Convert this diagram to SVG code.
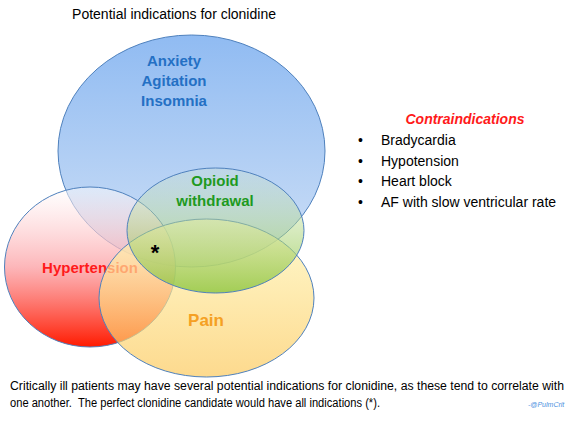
<svg xmlns="http://www.w3.org/2000/svg" width="575" height="424" viewBox="0 0 575 424">
<defs>
<linearGradient id="gBlue" x1="0" y1="0" x2="0" y2="1"><stop offset="0" stop-color="#90bbf2"/><stop offset="1" stop-color="#cfe0f6"/></linearGradient>
<linearGradient id="gRed" x1="0" y1="0" x2="0" y2="1"><stop offset="0" stop-color="#ffffff" stop-opacity="0.5"/><stop offset="0.5" stop-color="#fca4a8" stop-opacity="0.8"/><stop offset="1" stop-color="#ff1a00"/></linearGradient>
<linearGradient id="gGreen" x1="0" y1="0" x2="0" y2="1"><stop offset="0" stop-color="#d8e8c8" stop-opacity="0.25"/><stop offset="1" stop-color="#8cc63e" stop-opacity="0.8"/></linearGradient>
<linearGradient id="gYellow" x1="0" y1="0" x2="0" y2="1"><stop offset="0" stop-color="#fff8b8"/><stop offset="1" stop-color="#fcc858"/></linearGradient>
</defs>
<style>
.e{stroke:#4f81bd;stroke-width:1}
.t{font-family:"Liberation Sans",Arial,sans-serif}
.b{font-weight:bold;text-anchor:middle}
</style>
<rect width="575" height="424" fill="#ffffff"/>
<text class="t" x="174" y="19" font-size="14" text-anchor="middle" fill="#000">Potential indications for clonidine</text>
<g id="anxiety">
<ellipse class="e" cx="191.5" cy="151" rx="133.5" ry="116" fill="url(#gBlue)"/>
<text class="t b" x="174" y="66" font-size="15" fill="#2470c4">Anxiety</text>
<text class="t b" x="174" y="86" font-size="15" fill="#2470c4">Agitation</text>
<text class="t b" x="174" y="106" font-size="15" fill="#2470c4">Insomnia</text>
</g>
<g id="hypertension">
<ellipse class="e" cx="90" cy="267" rx="85.5" ry="80" fill="url(#gRed)"/>
<text class="t b" x="90" y="273" font-size="15" fill="#ff1a1a">Hypertension</text>
</g>
<g id="pain">
<ellipse class="e" cx="206.5" cy="298" rx="107.5" ry="79" fill="url(#gYellow)" fill-opacity="0.68"/>
<text class="t b" x="206" y="326" font-size="17" fill="#f5a023">Pain</text>
</g>
<g id="opioid">
<ellipse class="e" cx="215.5" cy="230.5" rx="88.5" ry="62.5" fill="url(#gGreen)"/>
<text class="t b" x="215" y="186" font-size="15" fill="#1e9a1e">Opioid</text>
<text class="t b" x="215" y="206" font-size="15" fill="#1e9a1e">withdrawal</text>
</g>
<g id="star">
<text class="t b" x="155" y="260" font-size="22" fill="#000">*</text>
</g>
<g id="contraindications">
<text class="t" x="465" y="124" font-size="14" font-weight="bold" font-style="italic" text-anchor="middle" fill="#ff1a1a">Contraindications</text>
<g class="t" font-size="14" fill="#000">
<text x="358" y="145">•</text><text x="381" y="145">Bradycardia</text>
<text x="358" y="166">•</text><text x="381" y="166">Hypotension</text>
<text x="358" y="186">•</text><text x="381" y="186">Heart block</text>
<text x="358" y="207">•</text><text x="381" y="207">AF with slow ventricular rate</text>
</g>
</g>
<g id="caption" class="t" font-size="12" fill="#000">
<text x="10" y="390" textLength="554" lengthAdjust="spacingAndGlyphs">Critically ill patients may have several potential indications for clonidine, as these tend to correlate with</text>
<text x="10" y="407" textLength="370" lengthAdjust="spacingAndGlyphs">one another.&#160; The perfect clonidine candidate would have all indications (*).</text>
</g>
<text class="t" x="528" y="407" font-size="7" font-style="italic" fill="#4a90e0">-@PulmCrit</text>
<g id="connectors"/>
</svg>
